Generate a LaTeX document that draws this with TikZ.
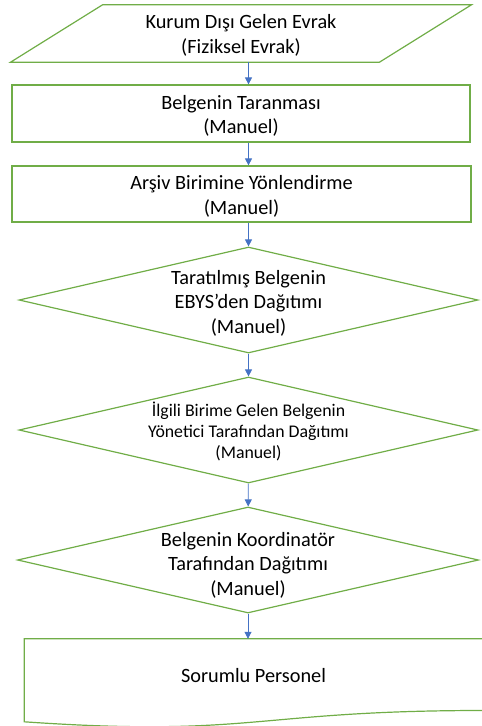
\documentclass[tikz,border=0pt]{standalone}
\usepackage{fontspec}
\setmainfont{Carlito}
\usetikzlibrary{shapes.geometric,arrows.meta,calc}

\begin{document}
\begin{tikzpicture}[
        x=1pt, y=-1pt,
        shape_box/.style={draw=mygreen, line width=1.2pt, inner sep=0pt},
        label_node/.style={align=center, font=\fontsize{20.3}{24.5}\selectfont},
        small_label/.style={align=center, font=\fontsize{17.8}{21}\selectfont},
        flow/.style={draw=myblue, line width=0.8pt, -{Triangle[width=7pt, length=7pt]}}
    ]

        \definecolor{mygreen}{RGB}{112, 173, 71}
        \definecolor{myblue}{RGB}{68, 114, 196}

        \useasboundingbox (0,0) rectangle (482,726);

        % parallelogram, drawn round a plain node
        \node[minimum width=368.5, minimum height=57, inner sep=0pt] (in) at (241,33.5) {};
        \draw[shape_box] ($(in.north west)+(46,0)$) -- ($(in.north east)+(46,0)$)
            -- ($(in.south east)+(-46,0)$) -- ($(in.south west)+(-46,0)$) -- cycle;
        \node[label_node] (in_label) at ($(in)+(0,2)$) {Kurum Dışı Gelen Evrak\\(Fiziksel Evrak)};

        \node[shape_box, minimum width=458, minimum height=57] (r1) at (241,113.5) {};
        \node[label_node] (r1_label) at ($(r1)+(0,2.5)$) {Belgenin Taranması\\(Manuel)};

        \node[shape_box, minimum width=459, minimum height=56] (r2) at (241.5,194) {};
        \node[label_node] (r2_label) at ($(r2)+(0,2.5)$) {Arşiv Birimine Yönlendirme\\(Manuel)};

        \node[shape_box, diamond, minimum width=459, minimum height=106] (d1) at (248.5,300) {};
        \node[label_node] (d1_label) at ($(d1)+(0,3)$) {Taratılmış Belgenin\\EBYS’den Dağıtımı\\(Manuel)};

        \node[shape_box, diamond, minimum width=459, minimum height=106] (d2) at (248.5,430) {};
        \node[small_label] (d2_label) at ($(d2)+(0,1)$) {İlgili Birime Gelen Belgenin\\Yönetici Tarafından Dağıtımı\\(Manuel)};

        \node[shape_box, diamond, minimum width=461, minimum height=106] (d3) at (248,560) {};
        \node[label_node] (d3_label) at ($(d3)+(0,5)$) {Belgenin Koordinatör\\Tarafından Dağıtımı\\(Manuel)};

        % document shape with wavy bottom
        \node[minimum width=458, minimum height=71.3, inner sep=0pt] (doc) at (253.5,674.65) {};
        \draw[shape_box] (doc.south east) -- (doc.north east) -- (doc.north west) -- ++(0,83)
            .. controls ($(doc.south)+(0,27.1)$) and (doc.south) .. (doc.south east);
        \node[label_node] (doc_label) at ($(doc)+(0,1)$) {Sorumlu Personel};

        \draw[flow] (in.south -| d1.center) -- (r1.north -| d1.center);
        \draw[flow] (r1.south -| d1.center) -- (r2.north -| d1.center);
        \draw[flow] (r2.south -| d1.center) -- (d1.north);
        \draw[flow] (d1) -- (d2);
        \draw[flow] (d2) -- (d3);
        \draw[flow] (d3.south) -- (doc.north -| d3.south);
    \end{tikzpicture}
\end{document}
